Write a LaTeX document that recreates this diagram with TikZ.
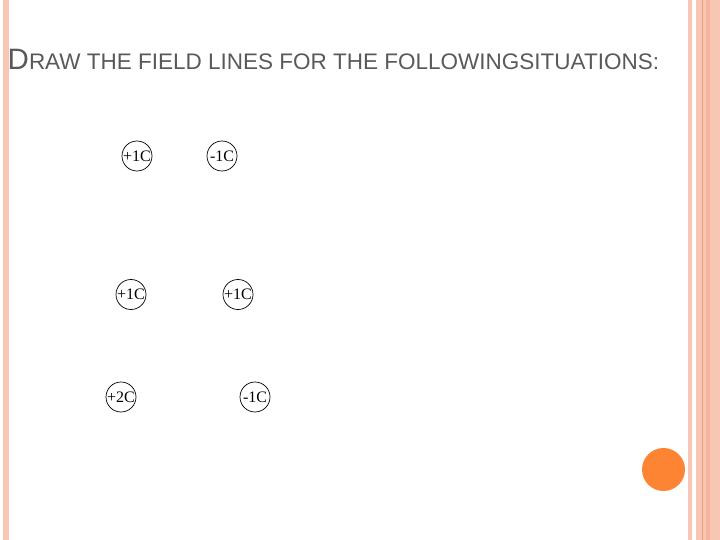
\documentclass[tikz,border=0pt]{standalone}
\usepackage{fontspec}
\setmainfont{Liberation Serif}
\newfontfamily\titlefont{Liberation Sans}
\definecolor{barpink}{HTML}{F8C7B3}
\definecolor{bardark}{HTML}{F2B49C}
\definecolor{barline}{HTML}{EE9E7E}
\definecolor{dotorange}{HTML}{FD8432}
\definecolor{titlegray}{HTML}{595959}
\tikzset{charge/.style={circle,draw=black,line width=0.7pt,minimum size=30pt,inner sep=0pt,font=\fontsize{16}{16}\selectfont}}
\begin{document}
\begin{tikzpicture}[x=1pt,y=-1pt]
\useasboundingbox (0,0) rectangle (720,540);
% bars
\fill[barpink] (3,0) rectangle (9,540);
\fill[barpink] (688,0) rectangle (692,540);
\fill[barpink] (696,0) rectangle (720,540);
\fill[bardark] (706,0) rectangle (710,540);
\draw[barline,line width=0.8pt] (702,0) -- (702,540);
\fill[dotorange] (663.5,469.5) circle (21.5);
% title
\node[anchor=base west,inner sep=0pt,text=titlegray] (title) at (7.5,70)
 {\titlefont\fontsize{29.5}{30}\selectfont D\fontsize{22.5}{24}\selectfont RAW THE FIELD LINES FOR THE FOLLOWINGSITUATIONS:};
% charges
\node[charge] (a1) at (137,156) {+1C};
\node[charge] (a2) at (222,156) {-1C};
\node[charge] (b1) at (131,294.5) {+1C};
\node[charge] (b2) at (238,294.5) {+1C};
\node[charge] (c1) at (121,397) {+2C};
\node[charge] (c2) at (255,397) {-1C};
\end{tikzpicture}
\end{document}
